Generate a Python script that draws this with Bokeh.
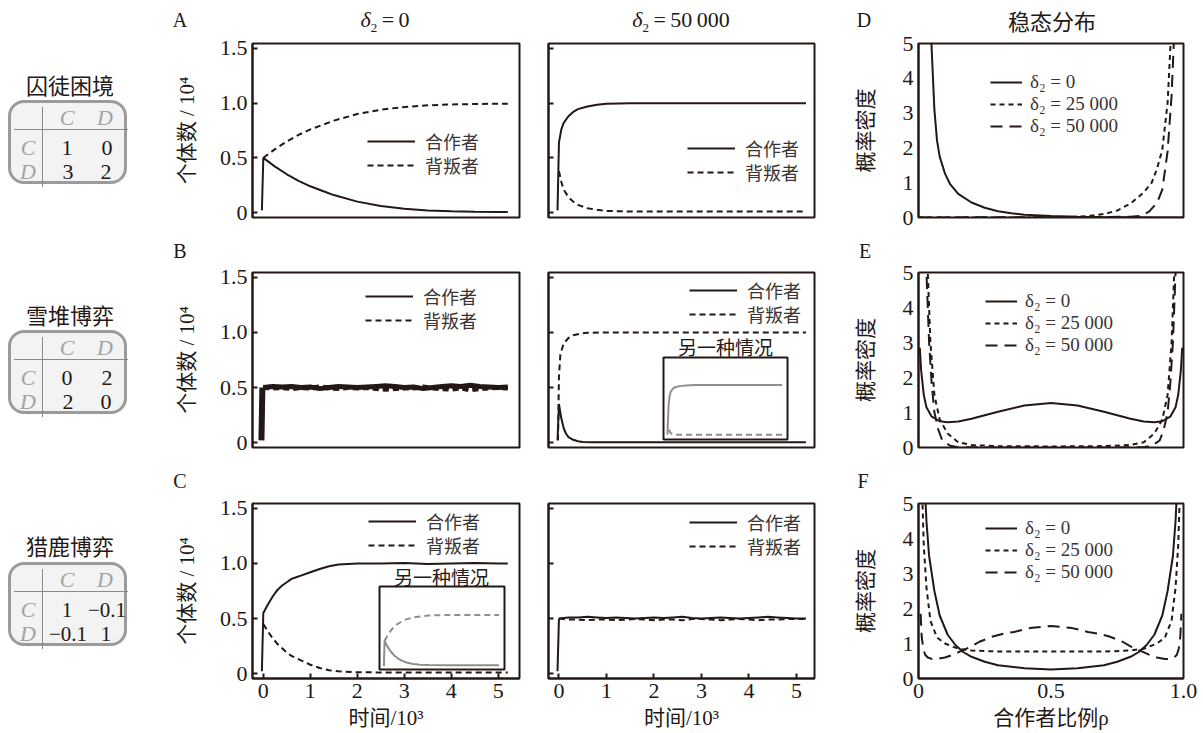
from bokeh.plotting import figure
from bokeh.models import Range1d, FixedTicker, Label, Legend, LegendItem, Div
from bokeh.layouts import row, column
from bokeh.embed import file_html
from bokeh.resources import INLINE

INK = "#231815"
TXT = "#3a3434"
GRAY = "#8e8e8e"
SERIF = "'Liberation Serif', 'Noto Sans CJK SC'"
CJK = "'Noto Sans CJK SC'"

# ---------------- data ----------------
# Panel A (prisoner's dilemma)
tA = [-0.03, 0.0, 0.25, 0.5, 0.75, 1.0, 1.25, 1.5, 2.0, 2.5, 3.0, 3.5, 4.0, 4.5, 5.0, 5.2]
coopA0 = [0.02, 0.50, 0.42, 0.35, 0.29, 0.24, 0.20, 0.16, 0.10, 0.06, 0.035, 0.02, 0.012, 0.008, 0.006, 0.006]
tAd = [0.0, 0.25, 0.5, 0.75, 1.0, 1.25, 1.5, 2.0, 2.5, 3.0, 3.5, 4.0, 4.5, 5.0, 5.2]
defA0 = [0.50, 0.58, 0.65, 0.71, 0.76, 0.80, 0.84, 0.90, 0.94, 0.965, 0.98, 0.988, 0.992, 0.995, 0.995]

tA50 = [-0.03, 0.0, 0.05, 0.1, 0.2, 0.3, 0.4, 0.6, 0.8, 1.0, 1.5, 2.0, 3.0, 4.0, 5.0, 5.2]
coopA50 = [0.02, 0.64, 0.76, 0.82, 0.88, 0.92, 0.945, 0.97, 0.985, 0.995, 1.0, 1.0, 1.0, 1.0, 1.0, 1.0]
tA50d = [0.0, 0.05, 0.1, 0.2, 0.3, 0.4, 0.6, 0.8, 1.0, 1.5, 2.0, 3.0, 4.0, 5.0, 5.2]
defA50 = [0.38, 0.28, 0.21, 0.14, 0.10, 0.07, 0.04, 0.025, 0.015, 0.01, 0.01, 0.01, 0.01, 0.01, 0.01]

# noisy time grid
tN = [0.0, 0.2, 0.4, 0.6, 0.8, 1.0, 1.2, 1.4, 1.6, 1.8, 2.0, 2.2, 2.4, 2.6, 2.8,
      3.0, 3.2, 3.4, 3.6, 3.8, 4.0, 4.2, 4.4, 4.6, 4.8, 5.0, 5.2]

# Panel B (snowdrift)
tB0s = [-0.04, -0.02]
coopB0s = [0.02, 0.50]
coopB0 = [0.50, 0.51, 0.505, 0.51, 0.50, 0.505, 0.49, 0.50, 0.51, 0.505, 0.50, 0.505, 0.51, 0.515,
          0.51, 0.50, 0.505, 0.49, 0.50, 0.51, 0.515, 0.51, 0.52, 0.51, 0.505, 0.50, 0.505]
defB0 = [0.50, 0.495, 0.50, 0.49, 0.50, 0.495, 0.505, 0.495, 0.49, 0.50, 0.495, 0.50, 0.49, 0.485,
         0.49, 0.495, 0.495, 0.505, 0.495, 0.49, 0.485, 0.495, 0.48, 0.49, 0.495, 0.50, 0.495]

tB50 = [-0.03, 0.0, 0.05, 0.1, 0.15, 0.2, 0.3, 0.4, 0.5, 0.7, 1.0, 2.0, 3.0, 4.0, 5.0, 5.2]
coopB50 = [0.02, 0.35, 0.22, 0.13, 0.08, 0.05, 0.025, 0.012, 0.006, 0.003, 0.002, 0.002, 0.002, 0.002, 0.002, 0.002]
tB50d = [-0.02, 0.0, 0.03, 0.1, 0.2, 0.3, 0.45, 0.6, 1.0, 2.0, 3.0, 4.0, 5.0, 5.2]
defB50 = [0.02, 0.6, 0.8, 0.9, 0.95, 0.975, 0.99, 0.998, 1.0, 1.0, 1.0, 1.0, 1.0, 1.0]
# inset of B (another case)
tBi = [-0.05, 0.0, 0.05, 0.1, 0.2, 0.3, 0.5, 0.8, 1.2, 2.0, 3.0, 4.0, 5.0, 5.2]
coopBi = [0.05, 0.6, 0.8, 0.88, 0.94, 0.97, 0.99, 1.0, 1.01, 1.01, 1.01, 1.01, 1.01, 1.01]
tBid = [0.0, 0.1, 0.2, 0.3, 0.5, 1.0, 2.0, 3.0, 4.0, 5.0, 5.2]
defBi = [0.15, 0.08, 0.05, 0.045, 0.045, 0.045, 0.045, 0.045, 0.045, 0.045, 0.045]

# Panel C (stag hunt)
tC0 = [-0.03, 0.0, 0.1, 0.2, 0.3, 0.4, 0.5, 0.6, 0.7, 0.8, 1.0, 1.2, 1.4, 1.6, 2.0, 2.5, 3.0, 3.5, 4.0, 4.5, 5.0, 5.2]
coopC0 = [0.02, 0.55, 0.63, 0.70, 0.76, 0.80, 0.83, 0.86, 0.875, 0.89, 0.92, 0.95, 0.975, 0.99, 1.0, 1.0, 1.005, 0.995, 1.0, 1.005, 1.0, 1.0]
tC0d = [0.0, 0.1, 0.2, 0.3, 0.4, 0.5, 0.6, 0.7, 0.8, 1.0, 1.2, 1.4, 1.6, 2.0, 2.5, 3.0, 3.5, 4.0, 4.5, 5.0, 5.2]
defC0 = [0.45, 0.38, 0.32, 0.27, 0.23, 0.19, 0.16, 0.14, 0.12, 0.08, 0.05, 0.03, 0.02, 0.012, 0.01, 0.01, 0.01, 0.01, 0.01, 0.01, 0.01]
# inset of C (another case)
tCi = [-0.03, 0.0, 0.1, 0.2, 0.3, 0.45, 0.6, 0.8, 1.0, 1.3, 1.6, 2.0, 3.0, 4.0, 5.0, 5.2]
coopCi = [0.02, 0.5, 0.42, 0.35, 0.29, 0.22, 0.17, 0.12, 0.09, 0.06, 0.045, 0.04, 0.035, 0.035, 0.035, 0.035]
tCid = [0.0, 0.1, 0.2, 0.3, 0.45, 0.6, 0.8, 1.0, 1.3, 1.6, 2.0, 3.0, 4.0, 5.0, 5.2]
defCi = [0.5, 0.58, 0.65, 0.71, 0.78, 0.83, 0.88, 0.92, 0.95, 0.97, 0.99, 1.0, 1.0, 1.0, 1.0]

tC50s = [-0.03, 0.0]
coopC50s = [0.02, 0.50]
coopC50 = [0.50, 0.51, 0.51, 0.515, 0.51, 0.505, 0.51, 0.505, 0.50, 0.505, 0.51, 0.505, 0.51, 0.515,
           0.505, 0.50, 0.505, 0.51, 0.505, 0.50, 0.505, 0.51, 0.515, 0.51, 0.505, 0.50, 0.50]
defC50 = [0.50, 0.49, 0.49, 0.485, 0.49, 0.49, 0.485, 0.49, 0.495, 0.49, 0.485, 0.49, 0.49, 0.485,
          0.495, 0.495, 0.49, 0.485, 0.49, 0.495, 0.49, 0.485, 0.49, 0.49, 0.495, 0.495, 0.495]

# Stationary distributions
rhoD0 = [0.044, 0.05, 0.06, 0.07, 0.08, 0.1, 0.12, 0.15, 0.2, 0.25, 0.3, 0.35, 0.4, 0.5, 0.6, 0.7, 0.8, 0.9, 1.0]
dD0 = [6.0, 4.8, 3.1, 2.2, 1.75, 1.26, 0.95, 0.68, 0.43, 0.28, 0.18, 0.12, 0.08, 0.04, 0.02, 0.01, 0.005, 0.002, 0.0]
rhoD25 = [0.0, 0.5, 0.6, 0.65, 0.7, 0.75, 0.8, 0.85, 0.88, 0.9, 0.92, 0.94, 0.95, 0.96]
dD25 = [0.0, 0.0, 0.02, 0.05, 0.1, 0.2, 0.4, 0.72, 1.0, 1.4, 1.95, 3.3, 4.8, 6.5]
rhoD50 = [0.0, 0.8, 0.84, 0.87, 0.9, 0.92, 0.94, 0.955, 0.965, 0.975]
dD50 = [0.0, 0.02, 0.05, 0.17, 0.42, 0.8, 1.9, 3.5, 5.3, 8.0]

rhoE0 = [0.005, 0.01, 0.02, 0.03, 0.05, 0.08, 0.11, 0.15, 0.2, 0.3, 0.4, 0.5, 0.6, 0.7, 0.8, 0.85, 0.89, 0.92, 0.95, 0.97, 0.98, 0.99, 0.995]
dE0 = [2.85, 2.2, 1.5, 1.15, 0.88, 0.75, 0.72, 0.74, 0.82, 1.02, 1.2, 1.27, 1.2, 1.02, 0.82, 0.74, 0.72, 0.75, 0.88, 1.15, 1.5, 2.2, 2.85]
rhoE25 = [0.03, 0.035, 0.045, 0.06, 0.08, 0.11, 0.15, 0.2, 0.3, 0.5, 0.7, 0.8, 0.85, 0.89, 0.92, 0.94, 0.955, 0.965, 0.97]
dE25 = [6.5, 5.0, 3.0, 1.5, 0.8, 0.4, 0.15, 0.07, 0.04, 0.03, 0.04, 0.07, 0.15, 0.4, 0.8, 1.5, 3.0, 5.0, 6.5]
rhoE50 = [0.027, 0.03, 0.04, 0.05, 0.06, 0.075, 0.09, 0.12, 0.15, 0.3, 0.5, 0.7, 0.85, 0.88, 0.91, 0.925, 0.94, 0.95, 0.96, 0.97, 0.973]
dE50 = [6.5, 5.0, 3.0, 1.8, 1.0, 0.5, 0.2, 0.05, 0.01, 0.0, 0.0, 0.0, 0.01, 0.05, 0.2, 0.5, 1.0, 1.8, 3.0, 5.0, 6.5]

rhoF0 = [0.025, 0.03, 0.04, 0.06, 0.08, 0.11, 0.14, 0.17, 0.2, 0.25, 0.3, 0.4, 0.5, 0.6, 0.7, 0.75, 0.8, 0.83, 0.86, 0.89, 0.92, 0.94, 0.96, 0.97, 0.975]
dF0 = [5.3, 4.5, 3.5, 2.5, 1.8, 1.25, 0.95, 0.75, 0.62, 0.48, 0.38, 0.29, 0.26, 0.29, 0.38, 0.48, 0.62, 0.75, 0.95, 1.25, 1.8, 2.5, 3.5, 4.5, 5.3]
rhoF25 = [0.012, 0.015, 0.02, 0.03, 0.045, 0.07, 0.1, 0.15, 0.2, 0.3, 0.4, 0.5, 0.6, 0.7, 0.8, 0.85, 0.9, 0.93, 0.955, 0.97, 0.98, 0.985, 0.988]
dF25 = [6.0, 5.0, 3.8, 2.6, 1.65, 1.17, 1.0, 0.85, 0.8, 0.77, 0.77, 0.77, 0.77, 0.77, 0.8, 0.85, 1.0, 1.17, 1.65, 2.6, 3.8, 5.0, 6.0]
rhoF50 = [0.008, 0.012, 0.018, 0.025, 0.035, 0.05, 0.07, 0.1, 0.13, 0.16, 0.2, 0.23, 0.28, 0.32, 0.36, 0.42, 0.5,
          0.58, 0.64, 0.68, 0.72, 0.77, 0.8, 0.84, 0.87, 0.9, 0.93, 0.95, 0.965, 0.975, 0.982, 0.988, 0.992]
dF50 = [1.85, 1.2, 0.85, 0.68, 0.6, 0.56, 0.56, 0.6, 0.68, 0.78, 0.92, 1.05, 1.2, 1.28, 1.33, 1.44, 1.5,
        1.44, 1.33, 1.28, 1.2, 1.05, 0.92, 0.78, 0.68, 0.6, 0.56, 0.56, 0.6, 0.68, 0.85, 1.2, 1.85]

# labels
time_ticks = [0, 1, 2, 3, 4, 5]
count_ticks = [0, 0.5, 1, 1.5]
count_labels = {0: "0", 0.5: "0.5", 1: "1.0", 1.5: "1.5"}
dens_ticks = [0, 1, 2, 3, 4, 5]
rho_ticks = [0, 0.5, 1]
rho_labels = {0: "0", 0.5: "0.5", 1: "1.0"}
legend_time = ["合作者", "背叛者"]
legend_dens = ["δ₂ = 0", "δ₂ = 25 000", "δ₂ = 50 000"]
games = ["囚徒困境", "雪堆博弈", "猎鹿博弈"]
payoffs = [[["1", "0"], ["3", "2"]], [["0", "2"], ["2", "0"]], [["1", "−0.1"], ["−0.1", "1"]]]
panel_letters = ["A", "B", "C", "D", "E", "F"]
col_titles = ["<i>δ</i><sub style='font-size:13px'>2</sub>&thinsp;=&thinsp;0",
              "<i>δ</i><sub style='font-size:13px'>2</sub>&thinsp;=&thinsp;50&thinsp;000",
              "稳态分布"]
inset_title = "另一种情况"

# ---------------- geometry ----------------
COLS = [(150, 380, 252, 519), (530, 300, 548, 814), (830, 373, 918, 1183)]
ROWS = [(28, 212, 43, 217), (260, 210, 272, 447), (490, 243, 503, 678)]
HDR = [(0, 28), (240, 20), (470, 20)]
XR = [(-0.23, 5.45), (-0.22, 5.38), (0, 1)]
YT = (-0.045, 1.545)
YD = (0, 5)


def make_fig(ci, ri):
    x0, w, fl, fr = COLS[ci]
    y0, h, ft, fb = ROWS[ri]
    yr = YD if ci == 2 else YT
    p = figure(width=w, height=h, x_range=Range1d(*XR[ci]), y_range=Range1d(*yr),
               output_backend="svg", toolbar_location=None, title=None,
               min_border_left=fl - x0, min_border_right=x0 + w - fr,
               min_border_top=ft - y0, min_border_bottom=y0 + h - fb)
    p.xgrid.visible = False
    p.ygrid.visible = False
    p.outline_line_color = INK
    p.outline_line_width = 2
    p.outline_line_alpha = 1
    p.border_fill_alpha = 0
    p.background_fill_color = "white"
    for ax in (p.xaxis[0], p.yaxis[0]):
        ax.axis_line_color = INK
        ax.axis_line_width = 2
        ax.major_tick_out = 0
        ax.major_tick_line_color = INK
        ax.major_tick_line_width = 2
        ax.minor_tick_line_color = None
        ax.major_label_text_font = SERIF
        ax.major_label_text_font_size = "22px"
        ax.major_label_text_color = INK
        ax.major_label_standoff = 5
        ax.axis_label_text_font = SERIF
        ax.axis_label_text_font_size = "21px"
        ax.axis_label_text_font_style = "normal"
        ax.axis_label_text_color = INK
    ya = p.yaxis[0]
    if ci == 2:
        ya.ticker = FixedTicker(ticks=dens_ticks)
        ya.major_tick_in = 0
        ya.axis_label = "概率密度"
        ya.axis_label_standoff = 22
    else:
        ya.ticker = FixedTicker(ticks=count_ticks)
        ya.major_tick_in = 5
        if ci == 0:
            ya.major_label_overrides = count_labels
            ya.axis_label = "个体数 / 10⁴"
            ya.axis_label_standoff = 18
        else:
            ya.major_label_overrides = {0: "", 0.5: "", 1: "", 1.5: ""}
            ya.major_label_standoff = 0
    xa = p.xaxis[0]
    if ri < 2:
        xa.visible = False
    else:
        if ci == 2:
            xa.ticker = FixedTicker(ticks=rho_ticks)
            xa.major_label_overrides = rho_labels
            xa.major_tick_in = 0
            xa.axis_label = "合作者比例ρ"
        else:
            xa.ticker = FixedTicker(ticks=time_ticks)
            xa.major_tick_in = 5
            xa.axis_label = "时间/10³"
        xa.axis_label_standoff = 5
    return p, (fl, fb)


def put(p, g, cx, cy, text, font, size, color=INK, align="center"):
    fl, fb = g
    p.add_layout(Label(x=cx - fl, y=fb - cy, x_units="screen", y_units="screen", text=text,
                       text_align=align, text_baseline="middle", text_font=font,
                       text_font_size=size, text_color=color))


def inset_ranges(p, g_px, box_px, xdom, ydom):
    (fl, fr, ft, fb) = g_px
    (bl, br, bt, bb) = box_px
    sx = (xdom[1] - xdom[0]) / (br - bl)
    sy = (ydom[1] - ydom[0]) / (bb - bt)
    p.extra_x_ranges = {"ix": Range1d(xdom[0] - (bl - fl) * sx, xdom[1] + (fr - br) * sx)}
    p.extra_y_ranges = {"iy": Range1d(ydom[0] - (fb - bb) * sy, ydom[1] + (bt - ft) * sy)}
    p.quad(left=[xdom[0]], right=[xdom[1]], bottom=[ydom[0]], top=[ydom[1]],
           x_range_name="ix", y_range_name="iy", fill_color="white", line_color=INK, line_width=2)


def time_legend(p, rs, x, ys):
    # one legend per entry so that the row spacing can be matched exactly
    for i in range(2):
        leg = Legend(items=[LegendItem(label=legend_time[i], renderers=[rs[i]])],
                     location=(x, ys[i]), glyph_width=48, glyph_height=20, label_height=20,
                     label_standoff=10, spacing=0, padding=0, margin=0,
                     border_line_alpha=0, background_fill_alpha=0,
                     label_text_font=CJK, label_text_font_size="18px", label_text_color=TXT)
        p.add_layout(leg)


def dens_legend(p, rs, loc):
    leg = Legend(items=[LegendItem(label=legend_dens[i], renderers=[rs[i]]) for i in range(3)],
                 location=loc, glyph_width=32, glyph_height=20, label_height=20,
                 label_standoff=8, spacing=-1, padding=0, margin=0,
                 border_line_alpha=0, background_fill_alpha=0,
                 label_text_font=SERIF, label_text_font_size="19px", label_text_color=TXT)
    p.add_layout(leg)


def header(ci, ri, items):
    x0, w = COLS[ci][0], COLS[ci][1]
    y0, h = HDR[ri]
    parts = []
    for (cx, cy, txt, fam, size) in items:
        parts.append(f'<div style="position:absolute;left:{cx - x0 - 100}px;top:{cy - y0 - 15}px;width:200px;'
                     f'line-height:30px;text-align:center;font-size:{size}px;font-family:{fam};color:{INK};'
                     f'white-space:nowrap">{txt}</div>')
    html = f'<div style="position:relative;width:{w}px;height:{h}px;overflow:visible">' + "".join(parts) + '</div>'
    return Div(text=html, width=w, height=h, margin=(0, 0, 0, 0), styles={"overflow": "visible", "z-index": "2"})


DASH = "6 4"
LSER = "'Liberation Serif'"

# ---- A left
pA0, g = make_fig(0, 0)
a1 = pA0.line(tA, coopA0, line_color=INK, line_width=2)
a2 = pA0.line(tAd, defA0, line_color=INK, line_width=2, line_dash=DASH)
time_legend(pA0, [a1, a2], 115, (63, 39))

# ---- A middle
pA1, g = make_fig(1, 0)
a1 = pA1.line(tA50, coopA50, line_color=INK, line_width=2)
a2 = pA1.line(tA50d, defA50, line_color=INK, line_width=2, line_dash=DASH)
time_legend(pA1, [a1, a2], 139, (56, 32))

# ---- D
pD, g = make_fig(2, 0)
r0 = pD.line(rhoD0, dD0, line_color=INK, line_width=2)
r1 = pD.line(rhoD25, dD25, line_color=INK, line_width=2, line_dash="5 4")
r2 = pD.line(rhoD50, dD50, line_color=INK, line_width=2, line_dash="12 7")
dens_legend(pD, [r0, r1, r2], (72, 80))

# ---- B left
pB0, g = make_fig(0, 1)
pB0.line(tB0s, coopB0s, line_color=INK, line_width=6)
a1 = pB0.line(tN, coopB0, line_color=INK, line_width=2)
a2 = pB0.line(tN, defB0, line_color=INK, line_width=2, line_dash=DASH)
pB0.line(tN, coopB0, line_color=INK, line_width=5)
pB0.line(tN, defB0, line_color=INK, line_width=5, line_dash=DASH)
time_legend(pB0, [a1, a2], 113, (138, 114))

# ---- B middle
pB1, g = make_fig(1, 1)
a1 = pB1.line(tB50, coopB50, line_color=INK, line_width=2)
a2 = pB1.line(tB50d, defB50, line_color=INK, line_width=2, line_dash=DASH)
time_legend(pB1, [a1, a2], 141, (144, 120))
inset_ranges(pB1, (548, 814, 272, 447), (663, 787, 357, 439), XR[0], YT)
pB1.line(tBi, coopBi, line_color=GRAY, line_width=2, x_range_name="ix", y_range_name="iy")
pB1.line(tBid, defBi, line_color=GRAY, line_width=2, line_dash=DASH, x_range_name="ix", y_range_name="iy")
put(pB1, g, 725, 346, inset_title, CJK, "19px")

# ---- E
pE, g = make_fig(2, 1)
r0 = pE.line(rhoE0, dE0, line_color=INK, line_width=2)
r1 = pE.line(rhoE25, dE25, line_color=INK, line_width=2, line_dash="5 4")
r2 = pE.line(rhoE50, dE50, line_color=INK, line_width=2, line_dash="12 7")
dens_legend(pE, [r0, r1, r2], (67, 91))

# ---- C left
pC0, g = make_fig(0, 2)
a1 = pC0.line(tC0, coopC0, line_color=INK, line_width=2)
a2 = pC0.line(tC0d, defC0, line_color=INK, line_width=2, line_dash=DASH)
time_legend(pC0, [a1, a2], 116, (144, 120))
inset_ranges(pC0, (252, 519, 503, 678), (379, 504, 586, 669), XR[0], YT)
pC0.line(tCi, coopCi, line_color=GRAY, line_width=2, x_range_name="ix", y_range_name="iy")
pC0.line(tCid, defCi, line_color=GRAY, line_width=2, line_dash=DASH, x_range_name="ix", y_range_name="iy")
put(pC0, g, 441, 576, inset_title, CJK, "19px")

# ---- C middle
pC1, g = make_fig(1, 2)
pC1.line(tC50s, coopC50s, line_color=INK, line_width=2)
a1 = pC1.line(tN, coopC50, line_color=INK, line_width=2)
a2 = pC1.line(tN, defC50, line_color=INK, line_width=2, line_dash=DASH)
time_legend(pC1, [a1, a2], 141, (143, 119))

# ---- F
pF, g = make_fig(2, 2)
r0 = pF.line(rhoF0, dF0, line_color=INK, line_width=2)
r1 = pF.line(rhoF25, dF25, line_color=INK, line_width=2, line_dash="5 4")
r2 = pF.line(rhoF50, dF50, line_color=INK, line_width=2, line_dash="12 7")
dens_legend(pF, [r0, r1, r2], (67, 95))

# ---------------- headers ----------------
hA0 = header(0, 0, [(180, 20, panel_letters[0], LSER, 20), (385, 20, col_titles[0], LSER, 22)])
hA1 = header(1, 0, [(681, 20, col_titles[1], LSER, 22)])
hD = header(2, 0, [(864, 20, panel_letters[3], LSER, 20), (1052, 20, col_titles[2], CJK, 22)])
hB0 = header(0, 1, [(180, 251, panel_letters[1], LSER, 20)])
hB1 = header(1, 1, [])
hE = header(2, 1, [(865, 251, panel_letters[4], LSER, 20)])
hC0 = header(0, 2, [(180, 481, panel_letters[2], LSER, 20)])
hC1 = header(1, 2, [])
hF = header(2, 2, [(863, 481, panel_letters[5], LSER, 20)])

# ---------------- payoff matrices (left column) ----------------
def cell(cx, cy, s, color, italic=False, size=22):
    st = "italic" if italic else "normal"
    return (f'<div style="position:absolute;left:{cx-30}px;top:{cy-13}px;width:60px;line-height:26px;'
            f'text-align:center;font-size:{size}px;font-family:\'Liberation Serif\';font-style:{st};'
            f'color:{color};white-space:nowrap">{s}</div>')


parts = []
title_cy = [84, 314, 545]
box_top = [100, 330, 562]
for k in range(3):
    bt = box_top[k]
    parts.append(f'<div style="position:absolute;left:0px;top:{title_cy[k]-16}px;width:140px;line-height:32px;'
                 f'text-align:center;font-size:22px;font-family:{CJK};color:{INK}">{games[k]}</div>')
    parts.append(f'<div style="position:absolute;left:8px;top:{bt}px;width:119px;height:84px;'
                 f'border:3px solid #9b9b9b;border-radius:16px;background:#f3f3f3"></div>')
    parts.append(f'<div style="position:absolute;left:42px;top:{bt+7}px;width:1px;height:80px;background:#8a8a8a"></div>')
    parts.append(f'<div style="position:absolute;left:14px;top:{bt+29}px;width:114px;height:1px;background:#8a8a8a"></div>')
    parts.append(cell(67, bt + 18, "C", "#a3a3a3", True))
    parts.append(cell(105, bt + 18, "D", "#a3a3a3", True))
    parts.append(cell(28, bt + 48, "C", "#a3a3a3", True))
    parts.append(cell(28, bt + 72, "D", "#a3a3a3", True))
    sz = 21 if k == 2 else 22
    parts.append(cell(67, bt + 48, payoffs[k][0][0], INK, size=sz))
    parts.append(cell(107, bt + 48, payoffs[k][0][1], INK, size=sz))
    parts.append(cell(68, bt + 72, payoffs[k][1][0], INK, size=sz))
    parts.append(cell(106, bt + 72, payoffs[k][1][1], INK, size=sz))

html = '<div style="position:relative;width:150px;height:733px;background:white">' + "".join(parts) + '</div>'
left = Div(text=html, width=150, height=733, margin=(0, 0, 0, 0))

layout = row(left,
             column(hA0, pA0, hB0, pB0, hC0, pC0),
             column(hA1, pA1, hB1, pB1, hC1, pC1),
             column(hD, pD, hE, pE, hF, pF))

open("out.html", "w").write(file_html(layout, INLINE))
